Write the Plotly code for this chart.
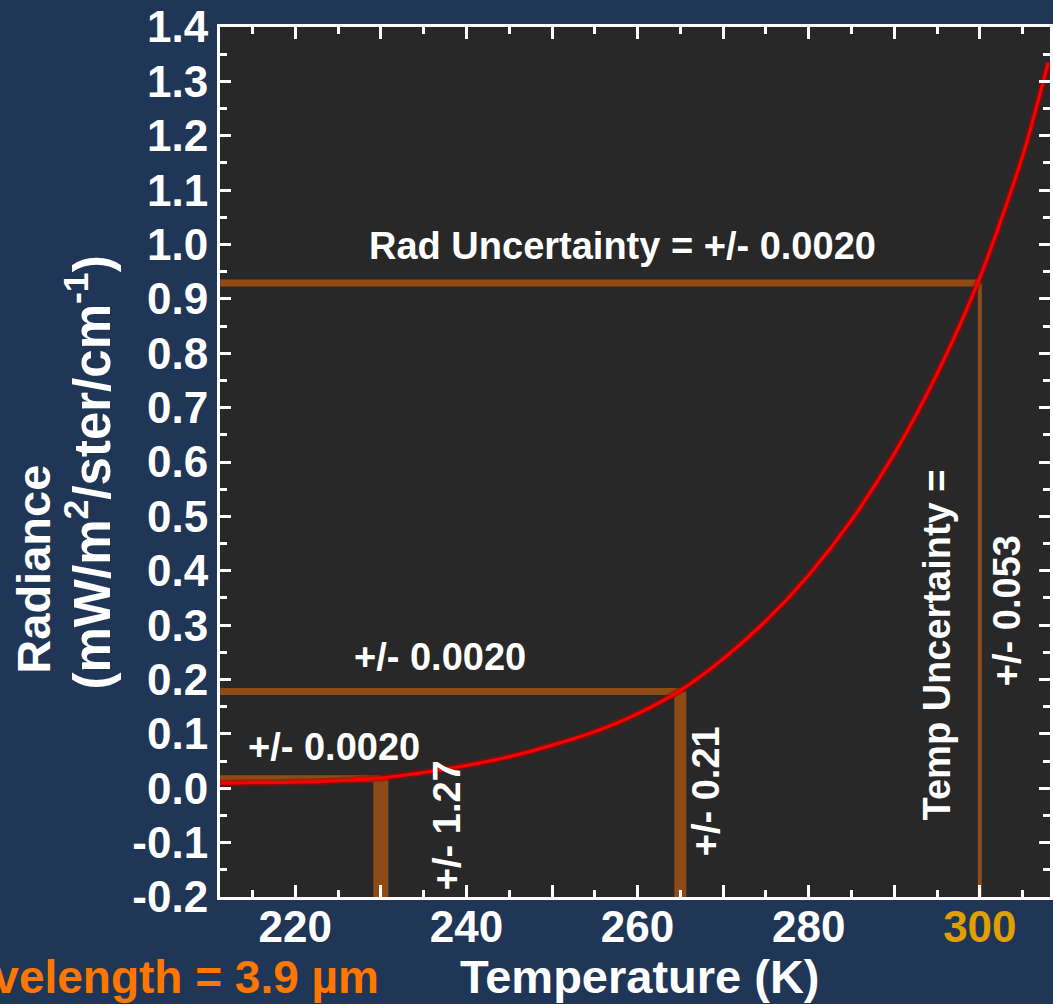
import plotly.graph_objects as go

# ---------------- data ----------------
temps = [211, 215, 220, 225, 230, 235, 240, 245, 250, 255, 260, 265,
         270, 275, 280, 285, 290, 295, 300, 305, 308]
radiance = [0.009, 0.010, 0.011, 0.014, 0.019, 0.029, 0.042, 0.058, 0.079,
            0.104, 0.137, 0.180, 0.238, 0.308, 0.392, 0.493, 0.615, 0.762,
            0.939, 1.163, 1.335]

meas_temps = [230, 265, 300]
meas_rad = [0.0175, 0.178, 0.929]
rad_unc_labels = ["+/- 0.0020", "+/- 0.0020", "Rad Uncertainty = +/- 0.0020"]
temp_unc_labels = ["+/- 1.27", "+/- 0.21", "+/- 0.053"]

x_label_ticks = [220, 240, 260, 280, 300]
x_tick_labels = ["220", "240", "260", "280",
                 "<span style='color:#E0A000'>300</span>"]
x_major_ticks = [220, 230, 240, 250, 260, 270, 280, 290, 300]
y_ticks = [-0.2, -0.1, 0.0, 0.1, 0.2, 0.3, 0.4, 0.5, 0.6, 0.7, 0.8,
           0.9, 1.0, 1.1, 1.2, 1.3, 1.4]
y_tick_labels = ["%.1f" % v for v in y_ticks]

# ---------------- styling ----------------
W, H = 1053, 1004
ML, MR, MT, MB = 220, 0, 27, 107
X_RANGE = [211.2, 308.2]
Y_RANGE = [-0.2, 1.4]
BG = "#1F3657"
PLOT_BG = "#282828"
ORANGE = "#8F4B16"
FONT = "Liberation Sans, Arial, sans-serif"
vert_widths = [15, 12, 4]

PW = W - ML - MR
PH = H - MT - MB


def px(xp):
    return (xp - ML) / PW


def py(yp):
    return (H - MB - yp) / PH


fig = go.Figure()

# uncertainty guide lines
for t, r, w in zip(meas_temps, meas_rad, vert_widths):
    fig.add_trace(go.Scatter(x=[X_RANGE[0], t], y=[r, r], mode="lines",
                             line=dict(color=ORANGE, width=7),
                             hoverinfo="skip", showlegend=False))
    fig.add_trace(go.Scatter(x=[t, t], y=[r, Y_RANGE[0]], mode="lines",
                             line=dict(color=ORANGE, width=w),
                             hoverinfo="skip", showlegend=False))

# radiance curve (glow + core)
fig.add_trace(go.Scatter(x=temps, y=radiance, mode="lines",
                         line=dict(color="rgba(170,0,0,0.55)", width=7,
                                   shape="spline", smoothing=0.8),
                         hoverinfo="skip", showlegend=False))
fig.add_trace(go.Scatter(x=temps, y=radiance, mode="lines",
                         line=dict(color="#FF0000", width=3,
                                   shape="spline", smoothing=0.8),
                         showlegend=False))
# invisible trace on the overlay axis carrying the unlabeled 10 K ticks
fig.add_trace(go.Scatter(x=temps, y=radiance, mode="lines", xaxis="x2",
                         line=dict(color="rgba(0,0,0,0)", width=0),
                         hoverinfo="skip", showlegend=False))

tickfont = dict(family=FONT, size=44, color="white", weight="bold")

fig.update_layout(
    xaxis=dict(range=X_RANGE, tickmode="array", tickvals=x_label_ticks,
               ticktext=x_tick_labels, ticks="inside", ticklen=12,
               tickwidth=3, tickcolor="white", showline=True,
               linecolor="white", linewidth=3, mirror="ticks",
               showgrid=False, zeroline=False, tickfont=tickfont,
               ticklabelstandoff=-11,
               minor=dict(dtick=5, tick0=0, ticks="inside", ticklen=7,
                          tickwidth=3, tickcolor="white", showgrid=False)),
    xaxis2=dict(range=X_RANGE, matches="x", overlaying="x", side="bottom",
                tickmode="array", tickvals=x_major_ticks,
                showticklabels=False, ticks="inside", ticklen=12,
                tickwidth=3, tickcolor="white", showline=False,
                mirror="ticks", showgrid=False, zeroline=False),
    yaxis=dict(range=Y_RANGE, tickmode="array", tickvals=y_ticks,
               ticktext=y_tick_labels, ticks="inside", ticklen=11,
               tickwidth=3, tickcolor="white", showline=True,
               linecolor="white", linewidth=3, mirror="ticks",
               showgrid=False, zeroline=False, tickfont=tickfont,
               minor=dict(dtick=0.05, tick0=0, ticks="inside", ticklen=7,
                          tickwidth=3, tickcolor="white", showgrid=False)),
)

ann_font = dict(family=FONT, size=38, color="white", weight="bold")
title_font = dict(family=FONT, size=47, color="white", weight="bold")

annotations = []
# radiance uncertainty labels (horizontal)
rad_pos = [(334, 747), (441, 657), (624, 246)]
for (xp, yp), txt in zip(rad_pos, rad_unc_labels):
    annotations.append(dict(x=px(xp), y=py(yp), xref="paper", yref="paper",
                            text=txt, showarrow=False, font=ann_font,
                            xanchor="center", yanchor="middle"))
# temperature uncertainty labels (vertical)
temp_pos = [(448, 825), (708, 791), (1010, 611)]
for (xp, yp), txt in zip(temp_pos, temp_unc_labels):
    annotations.append(dict(x=px(xp), y=py(yp), xref="paper", yref="paper",
                            text=txt, showarrow=False, font=ann_font,
                            textangle=-90, xanchor="center", yanchor="middle"))
annotations.append(dict(x=px(940), y=py(645), xref="paper", yref="paper",
                        text="Temp Uncertainty =", showarrow=False,
                        font=ann_font, textangle=-90,
                        xanchor="center", yanchor="middle"))
# axis titles
annotations.append(dict(x=px(642), y=py(977), xref="paper", yref="paper",
                        text="Temperature (K)", showarrow=False,
                        font=title_font, xanchor="center", yanchor="middle"))
annotations.append(dict(x=px(382), y=py(977), xref="paper", yref="paper",
                        text="Wavelength = 3.9 µm", showarrow=False,
                        font=dict(family=FONT, size=46, color="#FF7700",
                                  weight="bold"),
                        xanchor="right", yanchor="middle"))
annotations.append(dict(x=px(32), y=py(569), xref="paper", yref="paper",
                        text="Radiance", showarrow=False, font=title_font,
                        textangle=-90, xanchor="center", yanchor="middle"))
annotations.append(dict(x=px(88), y=py(472), xref="paper", yref="paper",
                        text="(mW/m<sup>2</sup>/ster/cm<sup>-1</sup>)",
                        showarrow=False,
                        font=dict(family=FONT, size=51, color="white",
                                  weight="bold"),
                        textangle=-90, xanchor="center", yanchor="middle"))

fig.update_layout(width=W, height=H, autosize=False,
                  margin=dict(l=ML, r=MR, t=MT, b=MB, pad=0),
                  paper_bgcolor=BG, plot_bgcolor=PLOT_BG,
                  showlegend=False, annotations=annotations)

fig.write_html("out.html", config={"displayModeBar": False})
